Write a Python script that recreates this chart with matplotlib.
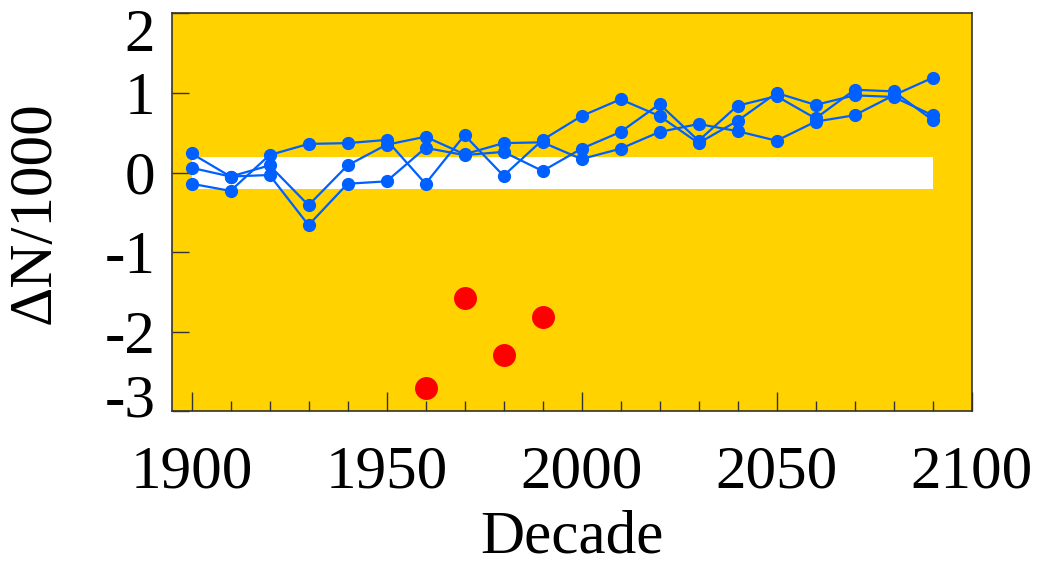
import numpy as np
import matplotlib.pyplot as plt
import matplotlib.transforms as mtransforms
from matplotlib.ticker import MultipleLocator

plt.rcParams['font.family'] = ['Liberation Serif', 'DejaVu Serif']
plt.rcParams['axes.unicode_minus'] = False

# Data
decades = list(range(1900, 2100, 10))
series_1 = [0.24, -0.05, 0.09, -0.41, 0.09, 0.35, 0.45, 0.23, 0.37, 0.38,
            0.17, 0.30, 0.51, 0.61, 0.52, 0.40, 0.64, 0.72, 0.97, 1.19]
series_2 = [0.06, -0.05, -0.03, -0.66, -0.14, -0.11, 0.31, 0.22, 0.26, 0.02,
            0.30, 0.51, 0.86, 0.40, 0.84, 0.96, 0.68, 1.04, 1.02, 0.66]
series_3 = [-0.14, -0.23, 0.22, 0.36, 0.37, 0.41, -0.14, 0.47, -0.04, 0.41,
            0.71, 0.92, 0.71, 0.37, 0.65, 1.00, 0.85, 0.97, 0.95, 0.72]
obs_decades = [1960, 1970, 1980, 1990]
obs_values = [-2.71, -1.57, -2.29, -1.81]
band_half = 0.2
y_ticks = [-3, -2, -1, 0, 1, 2]

yellow = '#FFD200'
blue = '#0060FF'

fig = plt.figure(figsize=(10.4, 5.67), dpi=100)
ax = fig.add_axes([0.1654, 0.2743, 0.7688, 0.7022])
ax.set_facecolor(yellow)

# white band around zero
ax.fill_between(decades, -band_half, band_half, color='white', lw=0, zorder=1)

for s in (series_1, series_2, series_3):
    ax.plot(decades, s, color=blue, lw=1.6, marker='o', ms=8.5, zorder=3)

ax.plot(obs_decades, obs_values, 'o', color='#FF0000', ms=15.5, zorder=4)

ax.set_xlim(1895, 2100)
ax.set_ylim(-3, 2)
ax.xaxis.set_major_locator(MultipleLocator(50))
ax.xaxis.set_minor_locator(MultipleLocator(10))
ax.set_yticks(y_ticks)
ax.set_yticklabels([str(v) for v in y_ticks])

ax.tick_params(axis='x', which='major', direction='in', length=14, width=1,
               labelsize=44, pad=24, color='#333')
ax.tick_params(axis='x', which='minor', direction='in', length=7, width=1, color='#333')
ax.tick_params(axis='y', which='major', direction='in', length=12, width=1,
               labelsize=44, pad=12, color='#333')
for sp in ax.spines.values():
    sp.set_color('#333')
    sp.set_linewidth(1.2)

# keep the end labels of the y axis inside the frame height
for lab in ax.get_yticklabels():
    if lab.get_text() == '2':
        lab.set_transform(lab.get_transform() +
                          mtransforms.ScaledTranslation(0, -16 / fig.dpi, fig.dpi_scale_trans))
    elif lab.get_text() == '-3':
        lab.set_transform(lab.get_transform() +
                          mtransforms.ScaledTranslation(0, 16 / fig.dpi, fig.dpi_scale_trans))

ax.set_xlabel('Decade', fontsize=44, labelpad=7)
ax.set_ylabel('ΔN/1000', fontsize=44)
ax.yaxis.set_label_coords(-0.137, 0.5)

fig.savefig('out.png', dpi=100)
